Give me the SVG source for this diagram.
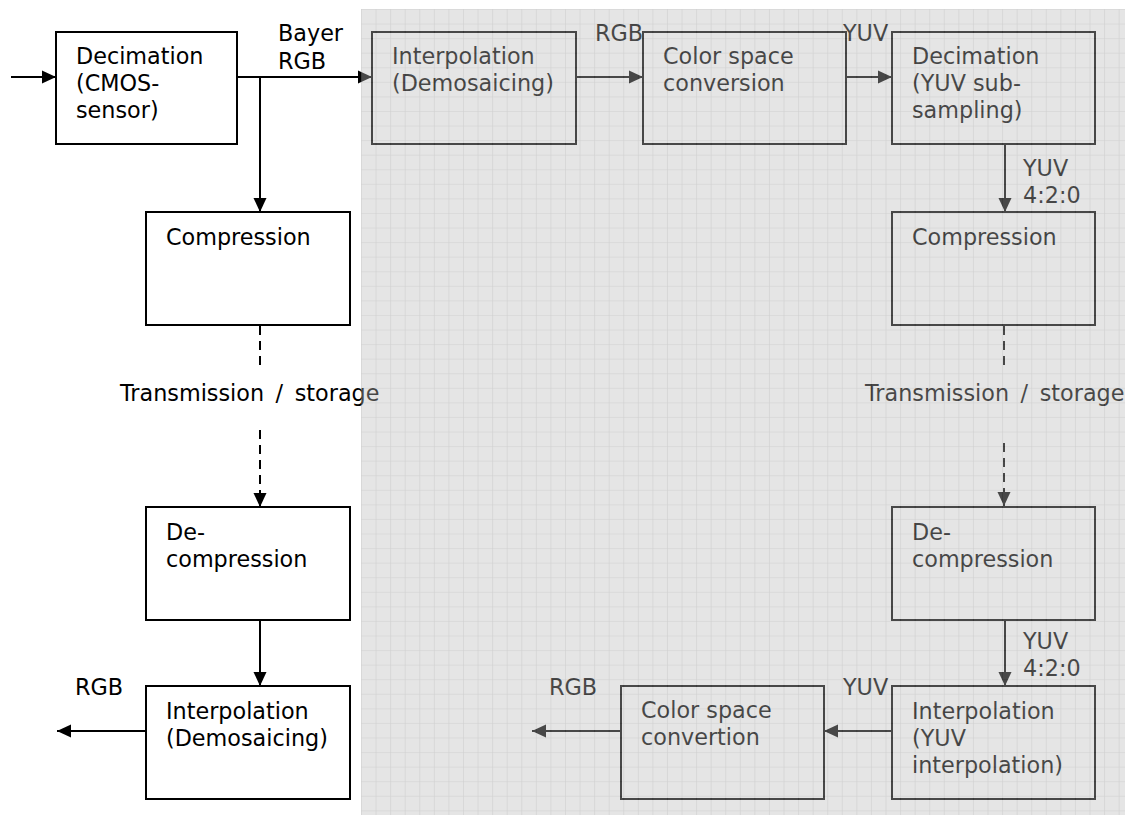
<svg xmlns="http://www.w3.org/2000/svg" width="1125" height="815" viewBox="0 0 1125 815">
  <defs>
    <style>
      .box { fill: none; stroke: #000; stroke-width: 2; }
      .lbl { font-family: "DejaVu Sans", Verdana, sans-serif; font-size: 22.3px; fill: #000; }
      .wide { word-spacing: 4.5px; }
      .wire { fill: none; stroke: #000; stroke-width: 2; }
      .dash { stroke-dasharray: 9 6; }
    </style>
    <marker id="arrow" markerUnits="userSpaceOnUse" markerWidth="14" markerHeight="14" refX="14" refY="7" orient="auto">
      <path d="M0,0.5 L14,7 L0,13.5 z" fill="#000"/>
    </marker>
    <pattern id="grid" x="361" y="9" width="14.57" height="14.57" patternUnits="userSpaceOnUse">
      <path d="M0,0 H14.57 M0,0 V14.57" fill="none" stroke="#858585" stroke-width="1.2"/>
    </pattern>
  </defs>

  <rect width="1125" height="815" fill="#fff"/>

  <!-- connectors -->
  <g id="connectors">
    <line class="wire" x1="11" y1="77" x2="56" y2="77" marker-end="url(#arrow)"/>
    <line class="wire" x1="237" y1="77" x2="372" y2="77" marker-end="url(#arrow)"/>
    <line class="wire" x1="260" y1="77" x2="260" y2="212" marker-end="url(#arrow)"/>
    <line class="wire dash" x1="260" y1="326" x2="260" y2="370"/>
    <line class="wire dash" x1="260" y1="430" x2="260" y2="507" marker-end="url(#arrow)"/>
    <line class="wire" x1="260" y1="620" x2="260" y2="686" marker-end="url(#arrow)"/>
    <line class="wire" x1="146" y1="731" x2="57" y2="731" marker-end="url(#arrow)"/>

    <line class="wire" x1="576" y1="77" x2="643" y2="77" marker-end="url(#arrow)"/>
    <line class="wire" x1="846" y1="77" x2="892" y2="77" marker-end="url(#arrow)"/>
    <line class="wire" x1="1005" y1="144" x2="1005" y2="212" marker-end="url(#arrow)"/>
    <line class="wire dash" x1="1004" y1="326" x2="1004" y2="370"/>
    <line class="wire dash" x1="1004" y1="443" x2="1004" y2="506" marker-end="url(#arrow)"/>
    <line class="wire" x1="1005" y1="620" x2="1005" y2="686" marker-end="url(#arrow)"/>
    <line class="wire" x1="892" y1="731" x2="824" y2="731" marker-end="url(#arrow)"/>
    <line class="wire" x1="621" y1="731" x2="532" y2="731" marker-end="url(#arrow)"/>

    <text class="lbl" x="278" y="41">Bayer</text>
    <text class="lbl" x="278" y="69">RGB</text>
    <text class="lbl wide" x="120" y="401">Transmission / storage</text>
    <text class="lbl" x="75" y="695">RGB</text>

    <text class="lbl" x="595" y="41">RGB</text>
    <text class="lbl" x="843" y="41">YUV</text>
    <text class="lbl" x="1023" y="176">YUV</text>
    <text class="lbl" x="1023" y="203">4:2:0</text>
    <text class="lbl wide" x="865" y="401">Transmission / storage</text>
    <text class="lbl" x="1023" y="649">YUV</text>
    <text class="lbl" x="1023" y="676">4:2:0</text>
    <text class="lbl" x="843" y="695">YUV</text>
    <text class="lbl" x="549" y="695">RGB</text>
  </g>

  <!-- left chain: camera-side processing -->
  <g id="sensor-decimation">
    <rect class="box" x="56" y="32" width="181" height="112"/>
    <text class="lbl" x="76" y="64">Decimation</text>
    <text class="lbl" x="76" y="91">(CMOS-</text>
    <text class="lbl" x="76" y="118">sensor)</text>
  </g>
  <g id="bayer-compression">
    <rect class="box" x="146" y="212" width="204" height="113"/>
    <text class="lbl" x="166" y="245">Compression</text>
  </g>
  <g id="bayer-decompression">
    <rect class="box" x="146" y="507" width="204" height="113"/>
    <text class="lbl" x="166" y="540">De-</text>
    <text class="lbl" x="166" y="567">compression</text>
  </g>
  <g id="bayer-interpolation">
    <rect class="box" x="146" y="686" width="204" height="113"/>
    <text class="lbl" x="166" y="719">Interpolation</text>
    <text class="lbl" x="166" y="746">(Demosaicing)</text>
  </g>

  <!-- right chain: conventional YUV path -->
  <g id="rgb-interpolation">
    <rect class="box" x="372" y="32" width="204" height="112"/>
    <text class="lbl" x="392" y="64">Interpolation</text>
    <text class="lbl" x="392" y="91">(Demosaicing)</text>
  </g>
  <g id="color-conversion">
    <rect class="box" x="643" y="32" width="203" height="112"/>
    <text class="lbl" x="663" y="64">Color space</text>
    <text class="lbl" x="663" y="91">conversion</text>
  </g>
  <g id="yuv-decimation">
    <rect class="box" x="892" y="32" width="203" height="112"/>
    <text class="lbl" x="912" y="64">Decimation</text>
    <text class="lbl" x="912" y="91">(YUV sub-</text>
    <text class="lbl" x="912" y="118">sampling)</text>
  </g>
  <g id="yuv-compression">
    <rect class="box" x="892" y="212" width="203" height="113"/>
    <text class="lbl" x="912" y="245">Compression</text>
  </g>
  <g id="yuv-decompression">
    <rect class="box" x="892" y="507" width="203" height="113"/>
    <text class="lbl" x="912" y="540">De-</text>
    <text class="lbl" x="912" y="567">compression</text>
  </g>
  <g id="yuv-interpolation">
    <rect class="box" x="892" y="686" width="203" height="113"/>
    <text class="lbl" x="912" y="719">Interpolation</text>
    <text class="lbl" x="912" y="746">(YUV</text>
    <text class="lbl" x="912" y="773">interpolation)</text>
  </g>
  <g id="color-convertion">
    <rect class="box" x="621" y="686" width="203" height="113"/>
    <text class="lbl" x="641" y="718">Color space</text>
    <text class="lbl" x="641" y="745">convertion</text>
  </g>

  <!-- translucent gridded panel laid over the right-hand path -->
  <g id="panel" opacity="0.384">
    <rect x="361" y="9" width="764" height="806" fill="#bcbcbc"/>
    <rect x="361" y="9" width="764" height="806" fill="url(#grid)"/>
  </g>
</svg>
